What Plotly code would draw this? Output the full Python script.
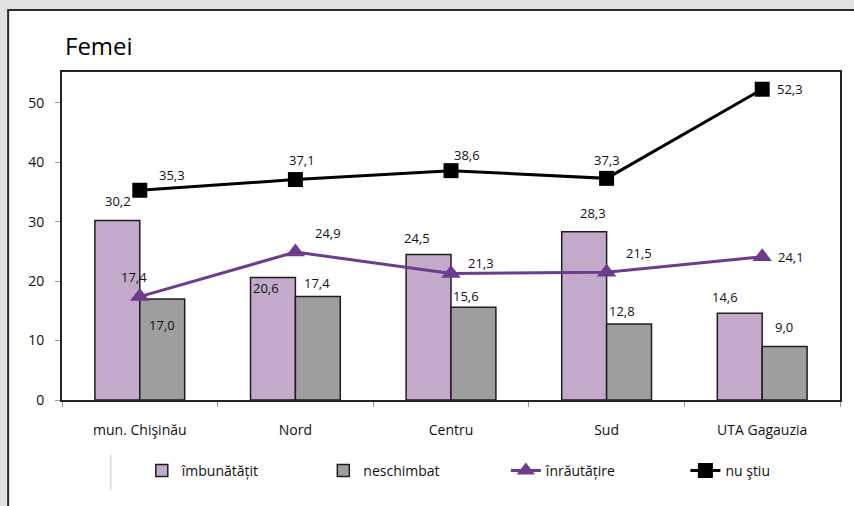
import plotly.graph_objects as go

# ---- data ----
categories = ["mun. Chişinău", "Nord", "Centru", "Sud", "UTA Gagauzia"]
imbunatatit = [30.2, 20.6, 24.5, 28.3, 14.6]
neschimbat = [17.0, 17.4, 15.6, 12.8, 9.0]
inrautatire = [17.4, 24.9, 21.3, 21.5, 24.1]
nu_stiu = [35.3, 37.1, 38.6, 37.3, 52.3]
y_ticks = [0, 10, 20, 30, 40, 50]
series_names = ["îmbunătățit", "neschimbat", "înrăutățire", "nu ştiu"]


def fmt(v):
    return f"{v:.1f}".replace(".", ",")


# ---- layout constants ----
W, H = 854, 506
ML, MR, MT, MB = 62, 12, 72, 106
PW, PH = W - ML - MR, H - MT - MB
FONT = "Open Sans"

PURPLE_BAR = "#c3aacb"
GRAY_BAR = "#9e9e9e"
PURPLE_LINE = "#6b3d8c"


def px_x(p):
    return (p - ML) / PW


def px_y(p):
    return (H - MB - p) / PH


fig = go.Figure()
fig.add_trace(go.Bar(x=categories, y=imbunatatit, name=series_names[0], legend="legend",
                     marker=dict(color=PURPLE_BAR, line=dict(color="#1e1e1e", width=1.5))))
fig.add_trace(go.Bar(x=categories, y=neschimbat, name=series_names[1], legend="legend2",
                     marker=dict(color=GRAY_BAR, line=dict(color="#1e1e1e", width=1.5))))
fig.add_trace(go.Scatter(x=categories, y=inrautatire, name=series_names[2], legend="legend3",
                         mode="lines+markers", line=dict(color=PURPLE_LINE, width=3),
                         marker=dict(symbol="triangle-up", size=17, color=PURPLE_LINE)))
fig.add_trace(go.Scatter(x=categories, y=nu_stiu, name=series_names[3], legend="legend4",
                         mode="lines+markers", line=dict(color="#000000", width=3),
                         marker=dict(symbol="square", size=15, color="#000000")))

# label offsets (pixels): (xshift, yshift) relative to each mark
off_imb = [(-22, 20), (-29, -10), (-34, 16), (-14, 19), (-37, 16)]
off_nes = [(22, -26), (22, 14), (15, 11), (15, 13), (22, 20)]
off_inr = [(-6, 20), (33, 19), (30, 10), (32, 19), (29, 0)]
off_nu = [(32, 15), (7, 20), (16, 16), (0, 18), (28, 0)]

ann = []
for series, offs in ((imbunatatit, off_imb), (neschimbat, off_nes),
                     (inrautatire, off_inr), (nu_stiu, off_nu)):
    for c, v, (dx, dy) in zip(categories, series, offs):
        ann.append(dict(x=c, y=v, xref="x", yref="y", text=fmt(v), showarrow=False,
                        xshift=dx, yshift=dy, font=dict(family=FONT, size=13, color="#111111")))

ann.append(dict(text="Femei", x=px_x(63), y=px_y(45), xref="paper", yref="paper",
                xanchor="left", yanchor="middle", showarrow=False,
                font=dict(family=FONT, size=24, color="#000000")))

shapes = [
    dict(type="rect", xref="paper", yref="paper", x0=px_x(8), x1=px_x(W + 20),
         y0=px_y(H + 20), y1=px_y(10), fillcolor="white",
         line=dict(color="#2a2a2a", width=2), layer="below"),
    dict(type="line", xref="paper", yref="paper", x0=px_x(111), x1=px_x(111),
         y0=px_y(455), y1=px_y(490), line=dict(color="#c8c8c8", width=1)),
]

legend_px = [142, 324, 507, 687]
legends = {}
for i, lx in enumerate(legend_px):
    key = "legend" if i == 0 else f"legend{i + 1}"
    legends[key] = dict(orientation="h", x=px_x(lx), xanchor="left", y=px_y(471),
                        yanchor="middle", bgcolor="rgba(0,0,0,0)", borderwidth=0,
                        font=dict(family=FONT, size=14, color="#111111"))

fig.update_layout(
    width=W, height=H,
    margin=dict(l=ML, r=MR, t=MT, b=MB),
    paper_bgcolor="#e0e2e0", plot_bgcolor="white",
    barmode="group", bargap=0.423, bargroupgap=0,
    font=dict(family=FONT, size=13, color="#111111"),
    showlegend=True,
    annotations=ann, shapes=shapes,
    **legends,
)
fig.update_xaxes(type="category", showline=True, linecolor="#222222", linewidth=2, mirror=True,
                 ticks="outside", tickson="boundaries", ticklen=5, tickcolor="#999999",
                 showgrid=False, ticklabelstandoff=16,
                 tickfont=dict(family=FONT, size=14, color="#111111"))
fig.update_yaxes(range=[0, 55.2], tickvals=y_ticks, showline=True, linecolor="#222222",
                 linewidth=2, mirror=True, ticks="outside", ticklen=5, tickcolor="#999999",
                 showgrid=False, zeroline=False, ticklabelstandoff=8,
                 tickfont=dict(family=FONT, size=14, color="#111111"))

fig.write_html("out.html", config={"displayModeBar": False},
               post_script="document.body.style.margin='0';")
